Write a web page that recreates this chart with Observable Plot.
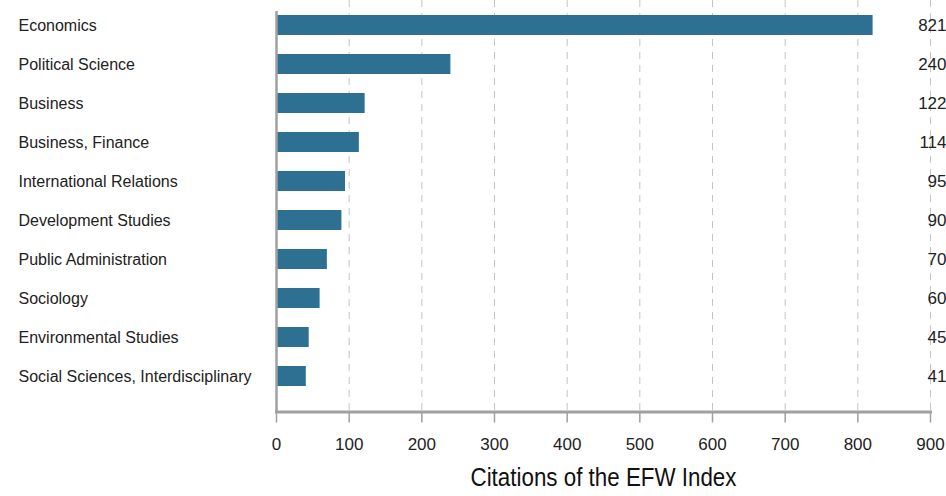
<!DOCTYPE html>
<html>
<head>
<meta charset="utf-8">
<script src="https://cdn.jsdelivr.net/npm/d3@7"></script>
<script src="https://cdn.jsdelivr.net/npm/@observablehq/plot@0.6"></script>
<style>
  html, body { margin: 0; padding: 0; background: #fff; }
  #chart svg { display: block; }
</style>
</head>
<body>
<div id="chart"></div>
<script>
const categories = [
  "Economics",
  "Political Science",
  "Business",
  "Business, Finance",
  "International Relations",
  "Development Studies",
  "Public Administration",
  "Sociology",
  "Environmental Studies",
  "Social Sciences, Interdisciplinary"
];
const citations = [821, 240, 122, 114, 95, 90, 70, 60, 45, 41];
const xTicks = [0, 100, 200, 300, 400, 500, 600, 700, 800, 900];
const xTitle = "Citations of the EFW Index";

const data = categories.map((c, i) => ({category: c, value: citations[i]}));
const FONT = "'Liberation Sans', Arial, sans-serif";
const AXIS = "#a0a0a0";

const chart = Plot.plot({
  width: 946,
  height: 496,
  marginLeft: 276,
  marginRight: 16,
  marginTop: 0,
  marginBottom: 84.5,
  insetTop: 12,
  insetBottom: 23.5,
  style: {fontFamily: FONT, background: "#fff"},
  x: {domain: [0, 900], ticks: xTicks},
  y: {domain: categories, padding: 0.5, paddingOuter: 0, axis: null},
  marks: [
    Plot.gridX(xTicks.filter(d => d > 0), {stroke: "#c4c4c4", strokeOpacity: 1, strokeDasharray: "7,6", strokeWidth: 1}),
    Plot.barX(data, {x: "value", y: "category", fill: "#2e7091"}),
    Plot.ruleX([0], {stroke: AXIS, strokeWidth: 2.5, insetTop: 11}),
    Plot.frame({anchor: "bottom", stroke: AXIS, strokeWidth: 3}),
    Plot.axisX({ticks: xTicks, tickSize: 11, tickPadding: 14.5, stroke: AXIS, strokeWidth: 1.5, fontSize: 17, fill: "#222", label: null, tickFormat: d => String(d)}),
    Plot.text(data, {y: "category", text: "category", frameAnchor: "left", dx: -258, textAnchor: "start", fontSize: 16, fill: "#222"}),
    Plot.text(data, {y: "category", text: d => String(d.value), frameAnchor: "right", dx: 16, textAnchor: "end", fontSize: 17, fill: "#222"}),
    Plot.text([xTitle], {frameAnchor: "bottom", dy: 73.5, text: d => d, fontSize: 25, fill: "#111"})
  ]
});
chart.querySelectorAll("text").forEach(t => {
  if (t.textContent === xTitle) {
    t.setAttribute("textLength", "266");
    t.setAttribute("lengthAdjust", "spacingAndGlyphs");
  }
});
document.getElementById("chart").appendChild(chart);
</script>
</body>
</html>
